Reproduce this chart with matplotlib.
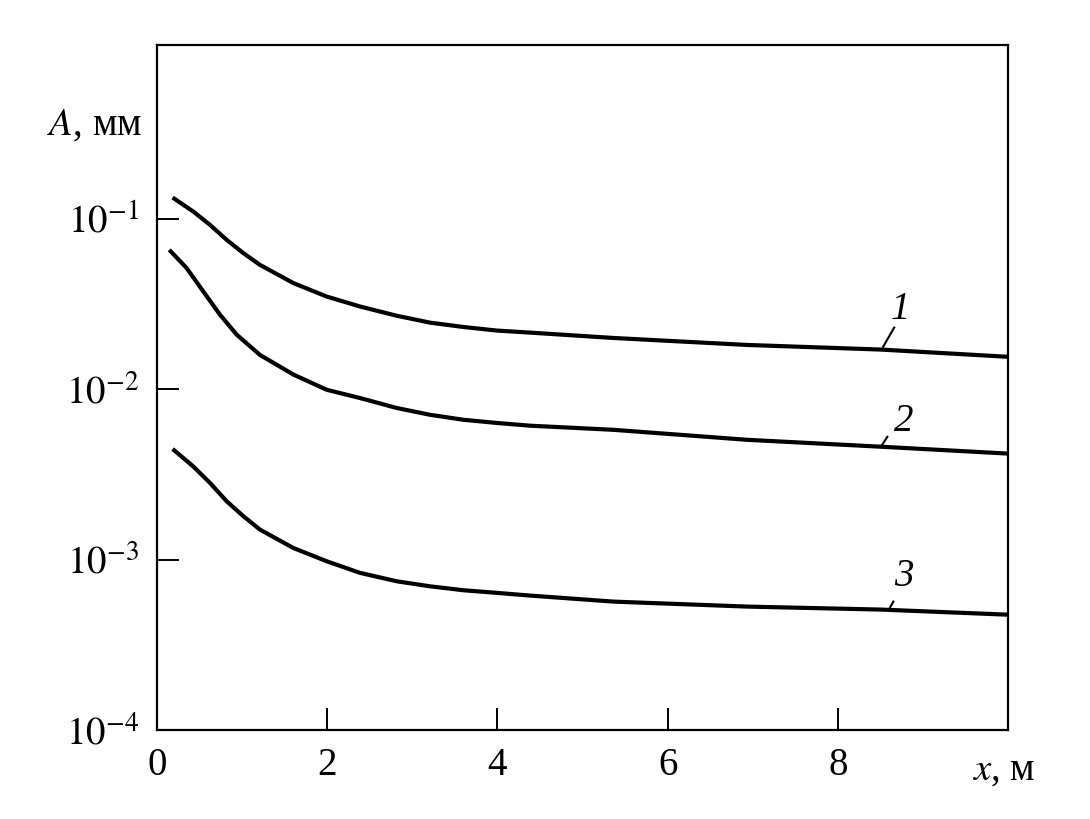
import matplotlib
matplotlib.use("Agg")
import matplotlib.pyplot as plt
from matplotlib.ticker import FixedLocator, FixedFormatter, NullLocator

plt.rcParams['font.family'] = ['Liberation Serif', 'DejaVu Serif']
plt.rcParams['mathtext.fontset'] = 'stix'

# values (x in m, A in mm)
x1 = [0.184, 0.427, 0.623, 0.819, 1.014, 1.210, 1.602, 1.994, 2.385, 2.817,
      3.208, 3.599, 3.992, 4.383, 5.36, 6.93, 8.50, 10.0]
a1 = [0.1334, 0.1104, 0.0922, 0.0753, 0.0630, 0.0537, 0.0420, 0.0350, 0.0306,
      0.0270, 0.0246, 0.0232, 0.0221, 0.0215, 0.0200, 0.0182, 0.0171, 0.0155]

x2 = [0.145, 0.349, 0.544, 0.740, 0.937, 1.210, 1.602, 1.994, 2.385, 2.817,
      3.208, 3.599, 3.992, 4.383, 5.36, 6.93, 8.50, 10.0]
a2 = [0.0658, 0.0514, 0.0375, 0.0274, 0.0209, 0.0159, 0.0122, 0.00993, 0.00888,
      0.00776, 0.00708, 0.00662, 0.00634, 0.00611, 0.00578, 0.00505, 0.00460, 0.00419]

x3 = [0.184, 0.427, 0.623, 0.819, 1.014, 1.210, 1.602, 1.994, 2.385, 2.817,
      3.208, 3.599, 3.992, 4.383, 5.36, 6.93, 8.50, 10.0]
a3 = [0.00446, 0.00352, 0.00282, 0.00220, 0.00180, 0.00150, 0.00117, 0.000978,
      0.000836, 0.000746, 0.000697, 0.000661, 0.000638, 0.000615, 0.000567,
      0.000530, 0.000509, 0.000475]

curve_names = ['1', '2', '3']
x_ticks = [0, 2, 4, 6, 8]
x_tick_labels = ['0', '2', '4', '6', '8']
y_ticks = [1e-4, 1e-3, 1e-2, 1e-1]
y_tick_labels = [r'$10^{-4}$', r'$10^{-3}$', r'$10^{-2}$', r'$10^{-1}$']

fig = plt.figure(figsize=(10.9, 8.19), dpi=100)
ax = fig.add_axes([0.144, 0.1087, 0.781, 0.8363])

for xs, ys in [(x1, a1), (x2, a2), (x3, a3)]:
    ax.plot(xs, ys, color='black', lw=3.0, solid_capstyle='butt',
            solid_joinstyle='round')

ax.set_yscale('log')
ax.set_xlim(0, 10)
ax.set_ylim(1e-4, 1.048)

ax.xaxis.set_major_locator(FixedLocator(x_ticks))
ax.xaxis.set_major_formatter(FixedFormatter(x_tick_labels))
ax.xaxis.set_minor_locator(NullLocator())
ax.yaxis.set_major_locator(FixedLocator(y_ticks))
ax.yaxis.set_major_formatter(FixedFormatter(y_tick_labels))
ax.yaxis.set_minor_locator(NullLocator())

ax.tick_params(direction='in', length=16, width=1.4, labelsize=28,
               top=False, right=False)
ax.tick_params(axis='x', pad=12)
ax.tick_params(axis='y', pad=13)
for s in ax.spines.values():
    s.set_linewidth(1.6)

# curve numbers with short leader strokes
lab_pos = [(8.73, 0.0292), (8.77, 0.00646), (8.77, 0.000794)]
lead = [((8.53, 0.01774), (8.66, 0.0230)),
        ((8.52, 0.00473), (8.58, 0.00526)),
        ((8.61, 0.000522), (8.65, 0.000567))]
for name, (tx, ty), (p0, p1) in zip(curve_names, lab_pos, lead):
    ax.text(tx, ty, name, fontsize=28, style='italic', ha='center', va='center')
    ax.plot([p0[0], p1[0]], [p0[1], p1[1]], color='black', lw=1.5)

fig.text(0.131, 0.847, r'$A$, мм', fontsize=28, ha='right', va='center')
fig.text(0.9495, 0.06, r'$x$, м', fontsize=28, ha='right', va='center')

fig.savefig('out.png', dpi=100)
